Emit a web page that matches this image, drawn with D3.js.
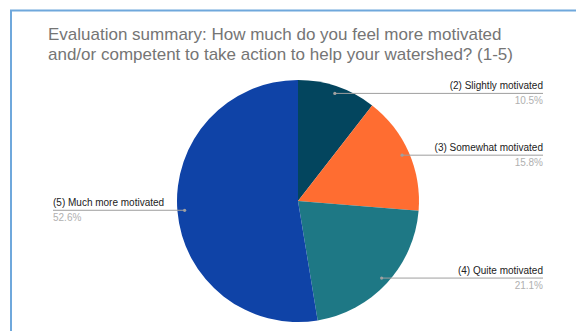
<!DOCTYPE html>
<html>
<head>
<meta charset="utf-8">
<script src="https://cdn.jsdelivr.net/npm/d3@7"></script>
<style>
  body { margin: 0; background: #fff; }
  svg { display: block; font-family: "Liberation Sans", Arial, sans-serif; }
</style>
</head>
<body>
<div id="chart"></div>
<script>
// Chart data
const titleLines = [
  "Evaluation summary: How much do you feel more motivated",
  "and/or competent to take action to help your watershed? (1-5)"
];
const categories = ["(2) Slightly motivated", "(3) Somewhat motivated", "(4) Quite motivated", "(5) Much more motivated"];
const percents = [10.5, 15.8, 21.1, 52.6];
const colors = ["#03455e", "#ff6d31", "#1e7885", "#0f43a7"];

const width = 576;
const height = 331;

const svg = d3.select("#chart")
  .append("svg")
  .attr("width", width)
  .attr("height", height);

// Frame border (blue, cut off at right and bottom)
svg.append("path")
  .attr("d", `M11,${height + 2}V10.5H${width + 2}`)
  .attr("fill", "none")
  .attr("stroke", "#6fa8dc")
  .attr("stroke-width", 2);

// Title
svg.append("g")
  .selectAll("text")
  .data(titleLines)
  .enter()
  .append("text")
  .attr("x", 48)
  .attr("y", (d, i) => 40 + i * 20)
  .attr("font-size", 17)
  .attr("fill", "#757575")
  .text(d => d);

// Pie
const cx = 298, cy = 201, r = 121;
const data = categories.map((c, i) => ({ label: c, value: percents[i], color: colors[i] }));

const pie = d3.pie().sort(null).value(d => d.value);
const arcs = pie(data);
const arc = d3.arc().innerRadius(0).outerRadius(r);
const dotArc = d3.arc().innerRadius(r * 0.94).outerRadius(r * 0.94);

const g = svg.append("g").attr("transform", `translate(${cx},${cy})`);

g.selectAll("path")
  .data(arcs)
  .enter()
  .append("path")
  .attr("d", arc)
  .attr("fill", d => d.data.color);

// Labels with leader lines
const rightEdge = 543, leftEdge = 53;
const fmt = d => d3.format(".1f")(d) + "%";

arcs.forEach(a => {
  const [px, py] = dotArc.centroid(a);
  const x = cx + px, y = cy + py;
  const mid = (a.startAngle + a.endAngle) / 2;
  const right = mid < Math.PI;
  const endX = right ? rightEdge : leftEdge;

  svg.append("line")
    .attr("x1", x).attr("y1", y)
    .attr("x2", endX).attr("y2", y)
    .attr("stroke", "#9e9e9e")
    .attr("stroke-width", 1);

  svg.append("circle")
    .attr("cx", x).attr("cy", y)
    .attr("r", 1.6)
    .attr("fill", "#a0a0a0");

  svg.append("text")
    .attr("x", endX)
    .attr("y", y - 4)
    .attr("text-anchor", right ? "end" : "start")
    .attr("font-size", 10)
    .attr("fill", "#222")
    .text(a.data.label);

  svg.append("text")
    .attr("x", endX)
    .attr("y", y + 11)
    .attr("text-anchor", right ? "end" : "start")
    .attr("font-size", 10)
    .attr("fill", "#b0b0b0")
    .text(fmt(a.data.value));
});
</script>
</body>
</html>
